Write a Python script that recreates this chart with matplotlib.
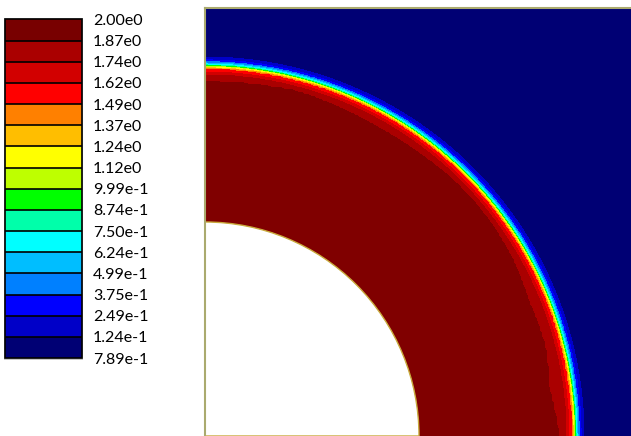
import numpy as np
import matplotlib
matplotlib.use("Agg")
import matplotlib.pyplot as plt
from matplotlib.colors import ListedColormap, BoundaryNorm
from matplotlib.patches import Wedge, Rectangle
import matplotlib.cm as cm

# contour levels (bottom to top) and legend text as shown
levels = [-0.000789, 0.124, 0.249, 0.375, 0.499, 0.624, 0.750, 0.874, 0.999,
          1.12, 1.24, 1.37, 1.49, 1.62, 1.74, 1.87, 2.00]
level_labels = ["7.89e-1", "1.24e-1", "2.49e-1", "3.75e-1", "4.99e-1", "6.24e-1",
                "7.50e-1", "8.74e-1", "9.99e-1", "1.12e0", "1.24e0", "1.37e0",
                "1.49e0", "1.62e0", "1.74e0", "1.87e0", "2.00e0"]
band_colors = ["#000074", "#0000c8", "#0000ff", "#0080ff", "#00beff", "#00ffff",
               "#00ffaa", "#00ff00", "#beff00", "#ffff00", "#ffbe00", "#ff8000",
               "#ff0000", "#d20000", "#aa0000", "#780000"]
field_colors = band_colors[:-1] + ["#800000"]

# geometry (1 unit = 214 px)
px = 214.0
r_inner = 1.0
r_front = 369 / px
# radial profile across the front, distance in px from the front
prof_d = [-9, -8, -5, -2, 0, 2, 5, 7, 10, 13]
prof_v = [1.80, 1.74, 1.62, 1.49, 1.10, 0.75, 0.375, 0.249, 0.124, 0.0]
# width (px) of the darker red band behind the front, by angle
band_ang = [0, 7.5, 15, 22.5, 30, 37.5, 45, 52.5, 60, 67.5, 75, 82.5, 90]
band_w = [6, 12, 8, 9, 5, 3, 3, 5, 6, 5, 3, 5, 5]

x = np.linspace(0, 2.0, 181)
X, Y = np.meshgrid(x, x)
R = np.hypot(X, Y)
TH = np.degrees(np.arctan2(Y, X))
D = (R - r_front) * px
W = np.interp(TH, band_ang, band_w)
Z = np.interp(D, prof_d, prof_v)
inner = D < prof_d[0]
ramp = np.clip((-D + prof_d[0] - W) / 1.5, 0, 1)
Z = np.where(inner, 1.80 + 0.20 * ramp, Z)

fig = plt.figure(figsize=(6.31, 4.36), dpi=100)
W_px, H_px = 631, 436
ax = fig.add_axes([205 / W_px, 0, 426 / W_px, 428 / H_px])
ax.contourf(X, Y, Z, levels=levels, colors=field_colors)
ax.add_patch(Wedge((0, 0), r_inner, 0, 90, facecolor="white",
                   edgecolor="#c8aa3c", linewidth=1.0, zorder=3))
ax.set_xlim(0, 426 / px)
ax.set_ylim(0, 428 / px)
ax.set_xticks([])
ax.set_yticks([])
for s in ax.spines.values():
    s.set_visible(False)
ax.plot([0, 0], [0, 428 / px], color="#aaaa6e", lw=1.5, zorder=4, clip_on=False)
ax.plot([0, 426 / px], [428 / px, 428 / px], color="#aaaa6e", lw=1.5, zorder=4,
        clip_on=False)

# legend
cb_l, cb_b, cb_w, cb_h = 5, 436 - 358, 77, 338.5
fig.patches.append(Rectangle(((cb_l - 1.5) / W_px, (cb_b - 1.5) / H_px),
                             (cb_w + 2.5) / W_px, (cb_h + 2.5) / H_px,
                             transform=fig.transFigure, facecolor="#c8c8c8",
                             edgecolor="none", zorder=-1))
cax = fig.add_axes([cb_l / W_px, cb_b / H_px, cb_w / W_px, cb_h / H_px])
cmap = ListedColormap(band_colors)
norm = BoundaryNorm(levels, cmap.N)
cb = fig.colorbar(cm.ScalarMappable(norm=norm, cmap=cmap), cax=cax,
                  drawedges=True, ticks=levels, spacing="uniform")
cb.ax.set_yticklabels(level_labels, fontsize=11.5, family="Lato")
cb.ax.tick_params(length=0, pad=8)
cb.outline.set_linewidth(1.2)
cb.dividers.set_linewidth(1.2)

fig.savefig("out.png", dpi=100)
